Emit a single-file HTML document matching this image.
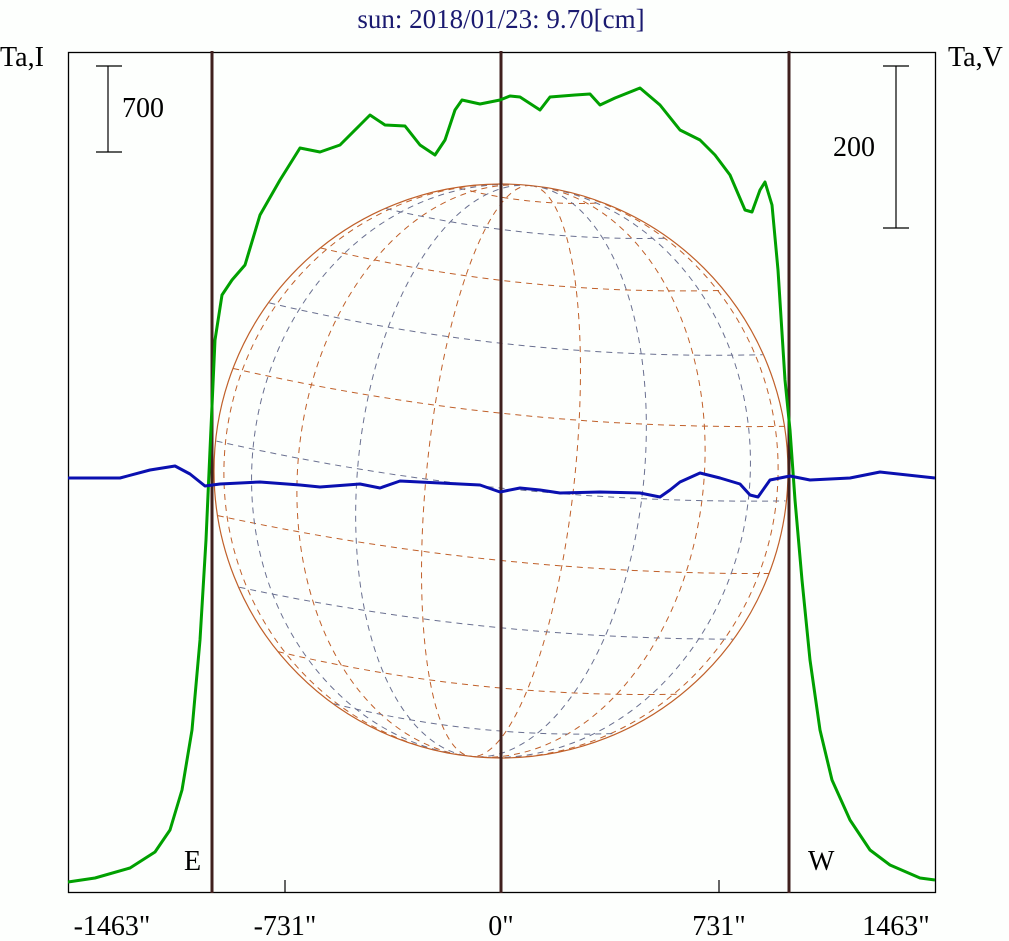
<!DOCTYPE html><html><head><style>body{margin:0;background:#fff}svg{display:block}text{font-family:"Liberation Serif",serif}</style></head><body>
<svg width="1009" height="941" viewBox="0 0 1009 941">
<rect width="1009" height="941" fill="#fdfffd"/>
<text x="501" y="28" font-size="27" fill="#1a1a70" text-anchor="middle">sun: 2018/01/23: 9.70[cm]</text>
<text x="0" y="66" font-size="28">Ta,I</text>
<text x="948" y="66" font-size="28">Ta,V</text>
<g clip-path="url(#c)">
<clipPath id="c"><circle cx="501" cy="471" r="287"/></clipPath>
<g fill="none" stroke-width="1" stroke-dasharray="6,5" transform="rotate(6 501 471)">
<g stroke="#c0602a">
<path d="M501 184 A74 287 0 0 1 501 758"/><path d="M501 184 A74 287 0 0 0 501 758"/>
<path d="M501 184 A203 287 0 0 1 501 758"/><path d="M501 184 A203 287 0 0 0 501 758"/>
<path d="M501 184 A277 287 0 0 1 501 758"/><path d="M501 184 A277 287 0 0 0 501 758"/>
<path d="M224 397 Q501 430 778 397"/><path d="M224 545 Q501 575 778 545"/>
<path d="M298 268 Q501 295 704 268"/><path d="M298 674 Q501 700 704 674"/>
<path d="M430 194 Q501 205 572 194"/>
</g>
<g stroke="#6a7090">
<path d="M501 184 A143 287 0 0 1 501 758"/><path d="M501 184 A143 287 0 0 0 501 758"/>
<path d="M501 184 A249 287 0 0 1 501 758"/><path d="M501 184 A249 287 0 0 0 501 758"/>
<path d="M253 328 Q501 360 749 328"/><path d="M253 614 Q501 640 749 614"/>
<path d="M215 471 Q501 505 787 471"/><path d="M359 222 Q501 240 643 222"/><path d="M359 720 Q501 740 643 720"/>
</g></g></g>
<circle cx="501" cy="471" r="287" fill="none" stroke="#c0602a" stroke-width="1.2"/>
<rect x="68.5" y="52.5" width="867" height="840" fill="none" stroke="#000" stroke-width="1.3"/>
<g stroke="#000" stroke-width="1.2">
<line x1="285" y1="880" x2="285" y2="892"/><line x1="719" y1="880" x2="719" y2="892"/>
<line x1="108" y1="66" x2="108" y2="152"/><line x1="96" y1="66" x2="122" y2="66"/><line x1="96" y1="152" x2="122" y2="152"/>
<line x1="896" y1="66" x2="896" y2="228"/><line x1="883" y1="66" x2="909" y2="66"/><line x1="883" y1="228" x2="909" y2="228"/>
</g>
<text x="122" y="117" font-size="28">700</text>
<text x="833" y="156" font-size="28">200</text>
<g stroke="#40201e" stroke-width="3"><line x1="212" y1="51" x2="212" y2="893"/><line x1="501" y1="51" x2="501" y2="893"/><line x1="789" y1="51" x2="789" y2="893"/></g>
<polyline fill="none" stroke="#00a000" stroke-width="3" stroke-linejoin="round" points="68,882 95,878 130,868 155,852 170,830 182,790 192,730 200,640 206,540 210,450 215,340 222,295 232,280 245,265 260,215 280,180 300,148 320,152 340,145 360,125 370,115 385,125 405,126 420,145 435,155 445,140 455,110 462,100 480,104 500,100 510,96 520,97 540,110 550,97 575,95 590,94 600,105 615,98 640,88 660,105 680,130 700,140 715,155 730,175 745,210 752,212 760,190 765,182 772,205 778,270 785,380 790,430 795,500 802,580 810,660 820,730 832,780 850,820 870,850 890,865 920,878 935,880"/>
<polyline fill="none" stroke="#0a10b0" stroke-width="3" stroke-linejoin="round" points="68,478 120,478 150,470 175,466 190,474 205,486 220,484 260,482 300,485 320,487 360,484 380,488 400,481 440,483 480,485 500,492 520,488 540,490 560,493 600,492 640,493 660,497 670,490 680,482 700,473 720,478 740,484 750,495 758,497 770,480 790,476 810,480 850,478 880,472 935,478"/>
<text x="184" y="870" font-size="28">E</text>
<text x="808" y="870" font-size="28">W</text>
<g font-size="28" text-anchor="middle">
<text x="112" y="935">-1463"</text><text x="285" y="935">-731"</text><text x="501" y="935">0"</text><text x="719" y="935">731"</text><text x="896" y="935">1463"</text>
</g>
</svg></body></html>
